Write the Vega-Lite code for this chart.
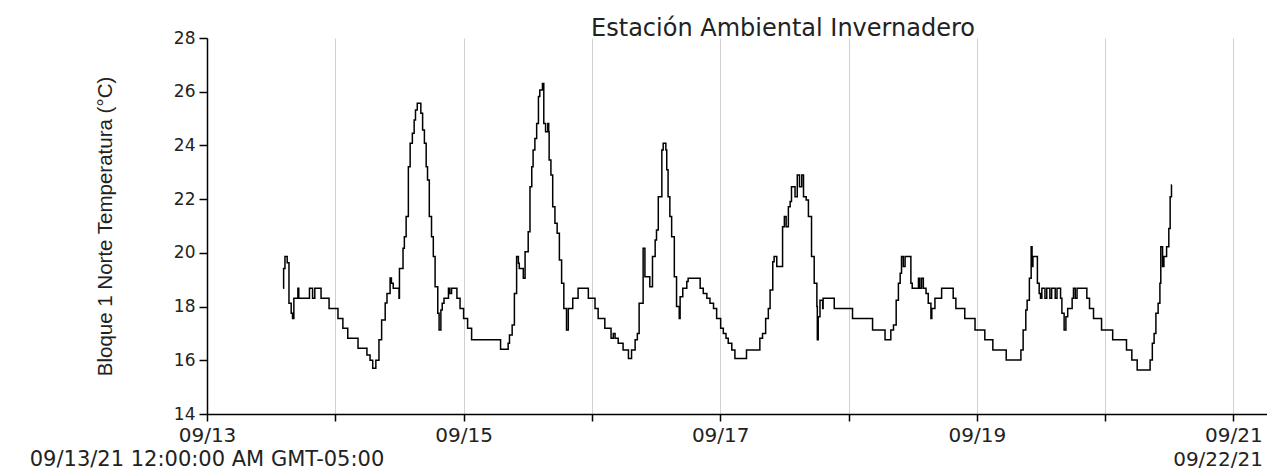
{
  "$schema": "https://vega.github.io/schema/vega-lite/v6.json",
  "width": 1060,
  "height": 376,
  "autosize": {"type": "none"},
  "padding": {"left": 207, "top": 38, "right": 0, "bottom": 59},
  "background": "white",
  "config": {"view": {"stroke": null}},
  "title": {"text": "Estación Ambiental Invernadero", "font": "DejaVu Sans", "fontSize": 24, "fontWeight": "normal", "color": "#222222", "anchor": "middle", "frame": "group", "dx": 46, "dy": 12, "offset": 0},
  "encoding": {
    "x": {
      "field": "t", "type": "temporal",
      "scale": {"type": "utc", "domain": [{"year": 2021, "month": 9, "date": 13, "utc": true}, {"year": 2021, "month": 9, "date": 21, "hours": 6, "minutes": 17, "utc": true}]},
      "axis": {
        "values": [
          {"year": 2021, "month": 9, "date": 13, "utc": true},
          {"year": 2021, "month": 9, "date": 14, "utc": true},
          {"year": 2021, "month": 9, "date": 15, "utc": true},
          {"year": 2021, "month": 9, "date": 16, "utc": true},
          {"year": 2021, "month": 9, "date": 17, "utc": true},
          {"year": 2021, "month": 9, "date": 18, "utc": true},
          {"year": 2021, "month": 9, "date": 19, "utc": true},
          {"year": 2021, "month": 9, "date": 20, "utc": true},
          {"year": 2021, "month": 9, "date": 21, "utc": true}
        ],
        "labelExpr": "utcdate(datum.value) % 2 == 1 ? utcFormat(datum.value, '%m/%d') : ''",
        "title": null,
        "grid": true, "gridColor": "#d0d0d0", "gridWidth": 1,
        "domainColor": "#000000", "domainWidth": 1.5,
        "tickColor": "#000000", "tickWidth": 1.5, "tickSize": 7,
        "labelFont": "DejaVu Sans", "labelFontSize": 20, "labelColor": "#222222",
        "labelPadding": 4, "labelOverlap": false, "labelFlush": false
      }
    }
  },
  "layer": [
    {
      "data": {"values": [
        {"t": "2021-09-13T14:15Z", "v": 18.68}, {"t": "2021-09-13T14:20Z", "v": 19.42}, {"t": "2021-09-13T14:35Z", "v": 19.86}, {"t": "2021-09-13T15:00Z", "v": 19.63},
        {"t": "2021-09-13T15:20Z", "v": 18.12}, {"t": "2021-09-13T15:45Z", "v": 17.75}, {"t": "2021-09-13T16:00Z", "v": 17.56}, {"t": "2021-09-13T16:15Z", "v": 18.31},
        {"t": "2021-09-13T17:00Z", "v": 18.68}, {"t": "2021-09-13T17:10Z", "v": 18.31}, {"t": "2021-09-13T19:10Z", "v": 18.68}, {"t": "2021-09-13T19:45Z", "v": 18.31},
        {"t": "2021-09-13T20:10Z", "v": 18.68}, {"t": "2021-09-13T21:20Z", "v": 18.31}, {"t": "2021-09-13T22:50Z", "v": 17.93},
        {"t": "2021-09-14T00:30Z", "v": 17.56}, {"t": "2021-09-14T01:25Z", "v": 17.19}, {"t": "2021-09-14T02:20Z", "v": 16.82}, {"t": "2021-09-14T04:15Z", "v": 16.45},
        {"t": "2021-09-14T05:55Z", "v": 16.2}, {"t": "2021-09-14T06:30Z", "v": 16.0}, {"t": "2021-09-14T07:00Z", "v": 15.7}, {"t": "2021-09-14T07:35Z", "v": 16.0},
        {"t": "2021-09-14T08:10Z", "v": 16.76}, {"t": "2021-09-14T08:40Z", "v": 17.5}, {"t": "2021-09-14T09:20Z", "v": 18.13}, {"t": "2021-09-14T09:40Z", "v": 18.49},
        {"t": "2021-09-14T10:15Z", "v": 19.06}, {"t": "2021-09-14T10:30Z", "v": 18.87}, {"t": "2021-09-14T10:50Z", "v": 18.68}, {"t": "2021-09-14T11:55Z", "v": 18.31},
        {"t": "2021-09-14T12:00Z", "v": 19.42}, {"t": "2021-09-14T12:40Z", "v": 20.17}, {"t": "2021-09-14T12:55Z", "v": 20.6}, {"t": "2021-09-14T13:15Z", "v": 21.35},
        {"t": "2021-09-14T13:40Z", "v": 23.21}, {"t": "2021-09-14T14:00Z", "v": 24.08}, {"t": "2021-09-14T14:25Z", "v": 24.45}, {"t": "2021-09-14T14:45Z", "v": 24.95},
        {"t": "2021-09-14T15:00Z", "v": 25.32}, {"t": "2021-09-14T15:20Z", "v": 25.57}, {"t": "2021-09-14T16:00Z", "v": 25.2}, {"t": "2021-09-14T16:20Z", "v": 24.57},
        {"t": "2021-09-14T16:40Z", "v": 24.08}, {"t": "2021-09-14T17:00Z", "v": 23.21}, {"t": "2021-09-14T17:15Z", "v": 22.71}, {"t": "2021-09-14T17:35Z", "v": 21.35},
        {"t": "2021-09-14T18:00Z", "v": 20.6}, {"t": "2021-09-14T18:20Z", "v": 19.86}, {"t": "2021-09-14T18:40Z", "v": 18.74}, {"t": "2021-09-14T19:10Z", "v": 17.75},
        {"t": "2021-09-14T19:25Z", "v": 17.13}, {"t": "2021-09-14T19:45Z", "v": 17.87}, {"t": "2021-09-14T20:00Z", "v": 18.12}, {"t": "2021-09-14T20:20Z", "v": 18.31},
        {"t": "2021-09-14T21:10Z", "v": 18.68}, {"t": "2021-09-14T21:25Z", "v": 18.49}, {"t": "2021-09-14T21:45Z", "v": 18.68}, {"t": "2021-09-14T22:45Z", "v": 18.31},
        {"t": "2021-09-14T23:20Z", "v": 17.93},
        {"t": "2021-09-15T00:00Z", "v": 17.56}, {"t": "2021-09-15T00:45Z", "v": 17.19}, {"t": "2021-09-15T01:30Z", "v": 16.76}, {"t": "2021-09-15T06:55Z", "v": 16.41},
        {"t": "2021-09-15T08:20Z", "v": 16.63}, {"t": "2021-09-15T08:35Z", "v": 16.94}, {"t": "2021-09-15T09:05Z", "v": 17.31}, {"t": "2021-09-15T09:30Z", "v": 18.49},
        {"t": "2021-09-15T09:55Z", "v": 19.86}, {"t": "2021-09-15T10:15Z", "v": 19.61}, {"t": "2021-09-15T10:25Z", "v": 19.42}, {"t": "2021-09-15T11:10Z", "v": 19.05},
        {"t": "2021-09-15T11:30Z", "v": 20.04}, {"t": "2021-09-15T12:05Z", "v": 20.79}, {"t": "2021-09-15T12:25Z", "v": 22.46}, {"t": "2021-09-15T12:45Z", "v": 23.21},
        {"t": "2021-09-15T13:00Z", "v": 23.83}, {"t": "2021-09-15T13:20Z", "v": 24.26}, {"t": "2021-09-15T13:40Z", "v": 24.82}, {"t": "2021-09-15T14:00Z", "v": 25.82},
        {"t": "2021-09-15T14:15Z", "v": 26.06}, {"t": "2021-09-15T14:45Z", "v": 26.31}, {"t": "2021-09-15T15:00Z", "v": 24.82}, {"t": "2021-09-15T15:20Z", "v": 24.51},
        {"t": "2021-09-15T15:45Z", "v": 24.82}, {"t": "2021-09-15T15:55Z", "v": 24.51}, {"t": "2021-09-15T16:00Z", "v": 23.46}, {"t": "2021-09-15T16:20Z", "v": 22.9},
        {"t": "2021-09-15T16:40Z", "v": 21.72}, {"t": "2021-09-15T17:05Z", "v": 21.1}, {"t": "2021-09-15T17:30Z", "v": 20.73}, {"t": "2021-09-15T17:55Z", "v": 19.73},
        {"t": "2021-09-15T18:20Z", "v": 18.87}, {"t": "2021-09-15T18:45Z", "v": 17.93}, {"t": "2021-09-15T19:15Z", "v": 17.13}, {"t": "2021-09-15T19:35Z", "v": 17.93},
        {"t": "2021-09-15T20:25Z", "v": 18.31}, {"t": "2021-09-15T21:25Z", "v": 18.68}, {"t": "2021-09-15T23:20Z", "v": 18.31},
        {"t": "2021-09-16T00:35Z", "v": 17.93}, {"t": "2021-09-16T01:10Z", "v": 17.56}, {"t": "2021-09-16T02:25Z", "v": 17.19}, {"t": "2021-09-16T03:35Z", "v": 16.82},
        {"t": "2021-09-16T04:00Z", "v": 17.0}, {"t": "2021-09-16T04:20Z", "v": 16.82}, {"t": "2021-09-16T04:55Z", "v": 16.63}, {"t": "2021-09-16T05:50Z", "v": 16.38},
        {"t": "2021-09-16T06:50Z", "v": 16.07}, {"t": "2021-09-16T07:25Z", "v": 16.38}, {"t": "2021-09-16T08:05Z", "v": 16.76}, {"t": "2021-09-16T08:30Z", "v": 17.0},
        {"t": "2021-09-16T08:50Z", "v": 18.12}, {"t": "2021-09-16T09:35Z", "v": 20.17}, {"t": "2021-09-16T09:55Z", "v": 19.11}, {"t": "2021-09-16T10:50Z", "v": 18.74},
        {"t": "2021-09-16T11:20Z", "v": 19.86}, {"t": "2021-09-16T11:50Z", "v": 20.48}, {"t": "2021-09-16T12:05Z", "v": 20.85}, {"t": "2021-09-16T12:25Z", "v": 22.09},
        {"t": "2021-09-16T13:05Z", "v": 23.83}, {"t": "2021-09-16T13:20Z", "v": 24.08}, {"t": "2021-09-16T13:50Z", "v": 23.83}, {"t": "2021-09-16T14:00Z", "v": 23.09},
        {"t": "2021-09-16T14:15Z", "v": 22.09}, {"t": "2021-09-16T14:35Z", "v": 21.35}, {"t": "2021-09-16T14:55Z", "v": 20.6}, {"t": "2021-09-16T15:25Z", "v": 19.11},
        {"t": "2021-09-16T15:50Z", "v": 18.0}, {"t": "2021-09-16T16:20Z", "v": 17.56}, {"t": "2021-09-16T16:30Z", "v": 18.37}, {"t": "2021-09-16T17:00Z", "v": 18.68},
        {"t": "2021-09-16T17:45Z", "v": 18.93}, {"t": "2021-09-16T18:00Z", "v": 19.05}, {"t": "2021-09-16T20:15Z", "v": 18.68}, {"t": "2021-09-16T20:50Z", "v": 18.49},
        {"t": "2021-09-16T21:30Z", "v": 18.31}, {"t": "2021-09-16T22:05Z", "v": 18.12}, {"t": "2021-09-16T22:45Z", "v": 17.93}, {"t": "2021-09-16T23:20Z", "v": 17.56},
        {"t": "2021-09-17T00:05Z", "v": 17.19}, {"t": "2021-09-17T00:35Z", "v": 17.0}, {"t": "2021-09-17T01:05Z", "v": 16.82}, {"t": "2021-09-17T01:30Z", "v": 16.63},
        {"t": "2021-09-17T02:10Z", "v": 16.38}, {"t": "2021-09-17T02:45Z", "v": 16.07}, {"t": "2021-09-17T04:55Z", "v": 16.38}, {"t": "2021-09-17T07:25Z", "v": 16.82},
        {"t": "2021-09-17T07:55Z", "v": 17.0}, {"t": "2021-09-17T08:30Z", "v": 17.56}, {"t": "2021-09-17T09:00Z", "v": 17.93}, {"t": "2021-09-17T09:20Z", "v": 18.62},
        {"t": "2021-09-17T09:50Z", "v": 19.67}, {"t": "2021-09-17T10:05Z", "v": 19.86}, {"t": "2021-09-17T10:35Z", "v": 19.49}, {"t": "2021-09-17T11:40Z", "v": 20.97},
        {"t": "2021-09-17T12:00Z", "v": 21.35}, {"t": "2021-09-17T12:20Z", "v": 20.97}, {"t": "2021-09-17T12:45Z", "v": 21.72}, {"t": "2021-09-17T13:05Z", "v": 21.91},
        {"t": "2021-09-17T13:20Z", "v": 22.46}, {"t": "2021-09-17T14:00Z", "v": 22.09}, {"t": "2021-09-17T14:25Z", "v": 22.9}, {"t": "2021-09-17T14:50Z", "v": 22.46},
        {"t": "2021-09-17T15:15Z", "v": 22.9}, {"t": "2021-09-17T15:35Z", "v": 22.09}, {"t": "2021-09-17T16:05Z", "v": 21.97}, {"t": "2021-09-17T16:30Z", "v": 21.35},
        {"t": "2021-09-17T17:05Z", "v": 19.86}, {"t": "2021-09-17T17:35Z", "v": 18.87}, {"t": "2021-09-17T18:05Z", "v": 18.0}, {"t": "2021-09-17T18:10Z", "v": 16.76},
        {"t": "2021-09-17T18:20Z", "v": 17.62}, {"t": "2021-09-17T18:40Z", "v": 18.24}, {"t": "2021-09-17T19:10Z", "v": 17.93}, {"t": "2021-09-17T19:15Z", "v": 18.31},
        {"t": "2021-09-17T21:20Z", "v": 17.93},
        {"t": "2021-09-18T00:45Z", "v": 17.56}, {"t": "2021-09-18T04:30Z", "v": 17.13}, {"t": "2021-09-18T06:50Z", "v": 16.76}, {"t": "2021-09-18T07:55Z", "v": 17.13},
        {"t": "2021-09-18T08:25Z", "v": 17.31}, {"t": "2021-09-18T08:55Z", "v": 18.24}, {"t": "2021-09-18T09:20Z", "v": 18.87}, {"t": "2021-09-18T09:40Z", "v": 19.24},
        {"t": "2021-09-18T09:55Z", "v": 19.86}, {"t": "2021-09-18T10:15Z", "v": 19.49}, {"t": "2021-09-18T10:35Z", "v": 19.86}, {"t": "2021-09-18T11:40Z", "v": 18.87},
        {"t": "2021-09-18T11:55Z", "v": 18.68}, {"t": "2021-09-18T13:05Z", "v": 19.05}, {"t": "2021-09-18T13:20Z", "v": 18.68}, {"t": "2021-09-18T13:40Z", "v": 19.05},
        {"t": "2021-09-18T14:00Z", "v": 18.68}, {"t": "2021-09-18T14:30Z", "v": 18.49}, {"t": "2021-09-18T14:55Z", "v": 18.12}, {"t": "2021-09-18T15:25Z", "v": 17.56},
        {"t": "2021-09-18T15:35Z", "v": 17.93}, {"t": "2021-09-18T16:10Z", "v": 18.31}, {"t": "2021-09-18T17:25Z", "v": 18.68}, {"t": "2021-09-18T19:35Z", "v": 18.31},
        {"t": "2021-09-18T20:05Z", "v": 17.93}, {"t": "2021-09-18T21:45Z", "v": 17.56}, {"t": "2021-09-18T23:40Z", "v": 17.13},
        {"t": "2021-09-19T01:30Z", "v": 16.76}, {"t": "2021-09-19T03:00Z", "v": 16.38}, {"t": "2021-09-19T05:30Z", "v": 16.01}, {"t": "2021-09-19T08:15Z", "v": 16.38},
        {"t": "2021-09-19T08:40Z", "v": 17.13}, {"t": "2021-09-19T09:10Z", "v": 17.87}, {"t": "2021-09-19T09:25Z", "v": 18.24}, {"t": "2021-09-19T09:50Z", "v": 19.05},
        {"t": "2021-09-19T10:10Z", "v": 20.23}, {"t": "2021-09-19T10:20Z", "v": 19.49}, {"t": "2021-09-19T10:30Z", "v": 19.86}, {"t": "2021-09-19T11:20Z", "v": 18.87},
        {"t": "2021-09-19T11:40Z", "v": 18.49}, {"t": "2021-09-19T11:55Z", "v": 18.31}, {"t": "2021-09-19T12:10Z", "v": 18.68}, {"t": "2021-09-19T12:45Z", "v": 18.31},
        {"t": "2021-09-19T13:05Z", "v": 18.68}, {"t": "2021-09-19T13:40Z", "v": 18.31}, {"t": "2021-09-19T14:00Z", "v": 18.68}, {"t": "2021-09-19T14:40Z", "v": 18.31},
        {"t": "2021-09-19T15:00Z", "v": 18.68}, {"t": "2021-09-19T15:40Z", "v": 18.31}, {"t": "2021-09-19T15:55Z", "v": 17.75}, {"t": "2021-09-19T16:20Z", "v": 17.13},
        {"t": "2021-09-19T16:40Z", "v": 17.62}, {"t": "2021-09-19T17:00Z", "v": 17.93}, {"t": "2021-09-19T17:50Z", "v": 18.31}, {"t": "2021-09-19T18:05Z", "v": 18.68},
        {"t": "2021-09-19T18:25Z", "v": 18.31}, {"t": "2021-09-19T18:45Z", "v": 18.68}, {"t": "2021-09-19T20:35Z", "v": 18.31}, {"t": "2021-09-19T21:05Z", "v": 17.93},
        {"t": "2021-09-19T21:50Z", "v": 17.56}, {"t": "2021-09-19T23:20Z", "v": 17.13},
        {"t": "2021-09-20T01:25Z", "v": 16.76}, {"t": "2021-09-20T04:00Z", "v": 16.38}, {"t": "2021-09-20T05:00Z", "v": 16.01}, {"t": "2021-09-20T06:00Z", "v": 15.64},
        {"t": "2021-09-20T08:25Z", "v": 16.01}, {"t": "2021-09-20T08:50Z", "v": 16.63}, {"t": "2021-09-20T09:10Z", "v": 17.0}, {"t": "2021-09-20T09:30Z", "v": 17.75},
        {"t": "2021-09-20T09:55Z", "v": 18.12}, {"t": "2021-09-20T10:15Z", "v": 18.87}, {"t": "2021-09-20T10:25Z", "v": 20.23}, {"t": "2021-09-20T10:45Z", "v": 19.49},
        {"t": "2021-09-20T11:00Z", "v": 19.86}, {"t": "2021-09-20T11:30Z", "v": 20.23}, {"t": "2021-09-20T11:55Z", "v": 20.91}, {"t": "2021-09-20T12:10Z", "v": 22.09},
        {"t": "2021-09-20T12:25Z", "v": 22.53}, {"t": "2021-09-20T12:30Z", "v": 22.53}
      ]},
      "mark": {"type": "line", "interpolate": "step-after", "color": "#000000", "strokeWidth": 1.5},
      "encoding": {
        "y": {
          "field": "v", "type": "quantitative",
          "scale": {"domain": [14, 28], "nice": false, "zero": false},
          "axis": {
            "values": [14, 15, 16, 17, 18, 19, 20, 21, 22, 23, 24, 25, 26, 27, 28],
            "labelExpr": "datum.value % 2 == 0 ? datum.label : ''",
            "tickSize": {"condition": {"test": "datum.value % 2 == 1", "value": 5}, "value": 8},
            "grid": false,
            "domainColor": "#000000", "domainWidth": 1.5,
            "tickColor": "#000000", "tickWidth": 1.5,
            "labelFont": "DejaVu Sans", "labelFontSize": 17, "labelColor": "#222222", "labelPadding": 4,
            "title": "Bloque 1 Norte Temperatura (°C)",
            "titleFont": "Liberation Sans",
            "titleFontSize": 20.5, "titleFontWeight": "normal", "titleColor": "#222222", "titlePadding": 58
          }
        }
      }
    },
    {
      "data": {"values": [{"t": "2021-09-13T00:00Z", "label": "09/13/21 12:00:00 AM GMT-05:00"}]},
      "mark": {"type": "text", "align": "center", "baseline": "middle", "dy": 46, "font": "DejaVu Sans", "fontSize": 21, "color": "#222222"},
      "encoding": {"y": {"datum": 14}, "text": {"field": "label"}}
    },
    {
      "data": {"values": [{"t": "2021-09-21T06:17Z", "label": "09/22/21"}]},
      "mark": {"type": "text", "align": "right", "baseline": "middle", "dy": 46, "dx": -4, "font": "DejaVu Sans", "fontSize": 20, "color": "#222222"},
      "encoding": {"y": {"datum": 14}, "text": {"field": "label"}}
    }
  ]
}
